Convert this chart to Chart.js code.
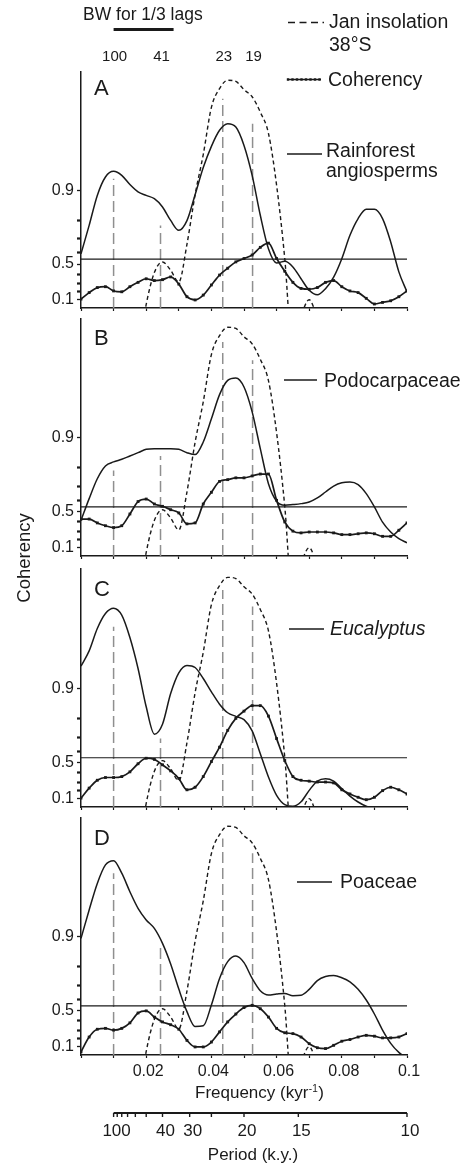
<!DOCTYPE html>
<html>
<head>
<meta charset="utf-8">
<script src="https://cdn.jsdelivr.net/npm/chart.js@4.4.1/dist/chart.umd.min.js"></script>
<style>
  body { margin: 0; background: #fff; }
  #wrap { position: relative; width: 464px; height: 1165px; }
  #wrap canvas { position: absolute; left: 0; top: 0; }
</style>
</head>
<body>
<div id="wrap">
  <canvas id="panelA" width="464" height="1165"></canvas>
  <canvas id="panelB" width="464" height="1165"></canvas>
  <canvas id="panelC" width="464" height="1165"></canvas>
  <canvas id="panelD" width="464" height="1165"></canvas>
</div>
<script>
// Frequency grid (kyr^-1)
const freq = [0, 0.0025, 0.005, 0.0075, 0.01, 0.0125, 0.015, 0.0175, 0.02, 0.0225,
  0.025, 0.0275, 0.03, 0.0325, 0.035, 0.0375, 0.04, 0.0425, 0.045, 0.0475,
  0.05, 0.0525, 0.055, 0.0575, 0.06, 0.0625, 0.065, 0.0675, 0.07, 0.0725,
  0.075, 0.0775, 0.08, 0.0825, 0.085, 0.0875, 0.09, 0.0925, 0.095, 0.0975, 0.1];

// January insolation 38°S, relative power (%), same in every panel
const insolation = [null, null, null, null, null, null, null, -20, 1.5, 15,
  19.5, 16, 11, 27, 48, 65, 85, 93, 96.5, 96,
  92.5, 89.5, 83, 74, 52, 21, -20, -4, 3.5, -4,
  null, null, null, null, null, null, null, null, null, null, null];

// Pollen spectra, relative power (%)
const rainforest = [23, 35, 47.7, 55.5, 57.9, 56.2, 52.3, 49.2, 47.7, 46.3,
  42.8, 37.1, 32.9, 37, 48, 59.5, 68.5, 75.3, 78.1, 76.7,
  68.9, 56.2, 39.3, 25.1, 19.1, 19.8, 17.4, 12.4, 7.5, 5.6,
  8.2, 13.1, 20.9, 30.8, 37.9, 41.8, 41.8, 37.9, 28, 15.3, 6.8];
const podocarp = [15, 24.2, 32.6, 38, 39.7, 40.8, 42.2, 43.6, 45, 45.3,
  45.3, 45.3, 45, 43.6, 42.8, 48.1, 57.9, 68.1, 74.1, 75.1,
  71.3, 60.8, 45.3, 30.5, 23.1, 21.4, 21.7, 22.1, 22.8, 24.5,
  27, 29.5, 30.9, 31.2, 30.1, 26.3, 20.7, 14.3, 10.1, 7.3, 5.6];
const eucalyptus = [59.2, 65.6, 75, 81.3, 83.5, 80.6, 71.2, 58.2, 42.1, 30.6,
  34.8, 47.7, 56.4, 59.5, 58.6, 54, 48.4, 43.2, 39.6, 38.1,
  36.7, 32, 22.4, 12.6, 4.9, 1, 0.3, 2.2, 7, 10.9,
  11.9, 10.9, 7.7, 4.6, 2.1, 0.3, -0.7, -2, -3, -3, -3];
const poaceae = [49.2, 61.2, 72.4, 80.2, 82, 76.7, 68.9, 61.9, 57, 53.4,
  47.1, 38.4, 27.8, 18.3, 12, 12.3, 21.1, 32.3, 39.4, 41.8,
  39, 32.3, 27.1, 25.3, 25.7, 26, 25, 25.2, 27.7, 31.4,
  33.1, 33.5, 32.6, 30.9, 27.7, 23.2, 17.3, 10.5, 4.9, 1.1, -1.4];

// Coherency with insolation
const cohRainforest = [0.11, 0.19, 0.25, 0.26, 0.21, 0.20, 0.26, 0.31, 0.35, 0.33,
  0.34, 0.37, 0.29, 0.14, 0.10, 0.16, 0.28, 0.39, 0.46, 0.52,
  0.55, 0.58, 0.64, 0.67, 0.55, 0.43, 0.31, 0.24, 0.23, 0.25,
  0.31, 0.33, 0.26, 0.21, 0.19, 0.12, 0.05, 0.07, 0.09, 0.14, 0.21];
const cohPodocarp = [0.43, 0.43, 0.39, 0.36, 0.34, 0.36, 0.48, 0.59, 0.61, 0.57,
  0.55, 0.52, 0.49, 0.38, 0.39, 0.57, 0.66, 0.73, 0.74, 0.75,
  0.75, 0.76, 0.77, 0.77, 0.60, 0.40, 0.30, 0.28, 0.29, 0.29,
  0.29, 0.28, 0.26, 0.26, 0.27, 0.28, 0.27, 0.24, 0.24, 0.31, 0.39];
const cohEucalyptus = [0.11, 0.23, 0.32, 0.35, 0.35, 0.36, 0.41, 0.49, 0.54, 0.53,
  0.48, 0.42, 0.34, 0.21, 0.24, 0.36, 0.51, 0.63, 0.74, 0.80,
  0.83, 0.85, 0.85, 0.81, 0.69, 0.52, 0.36, 0.32, 0.31, 0.30,
  0.30, 0.29, 0.21, 0.16, 0.12, 0.09, 0.12, 0.20, 0.24, 0.21, 0.16];
const cohPoaceae = [0.04, 0.22, 0.31, 0.32, 0.30, 0.32, 0.38, 0.48, 0.50, 0.44,
  0.39, 0.36, 0.31, 0.18, 0.10, 0.10, 0.16, 0.28, 0.39, 0.47,
  0.53, 0.55, 0.52, 0.44, 0.32, 0.27, 0.26, 0.22, 0.14, 0.09,
  0.08, 0.12, 0.17, 0.19, 0.22, 0.24, 0.23, 0.21, 0.21, 0.22, 0.26];

// Orbital periods (k.y.) and heights of their guide lines in each panel (%)
const orbitalPeriods = [100, 41, 23, 19];
const guidesA = [54.8, 35, 88.7, 78.1];
const guidesB = [36.1, 42.2, 90.3, 82.6];
const guidesC = [75.7, 28.8, 91.2, 84.2];
const guidesD = [76.7, 45.7, 91.4, 85.1];

const sigLevel = 0.545;          // coherency significance
const bandwidth = 0.0184;        // BW for 1/3 lags (kyr^-1)

// Axes ticks
const cohTicks = [0.1, 0.2, 0.3, 0.4, 0.5, 0.6, 0.7, 0.8, 0.9];
const cohMajor = [0.1, 0.5, 0.9];
const freqTicks = [0, 0.01, 0.02, 0.03, 0.04, 0.05, 0.06, 0.07, 0.08, 0.09, 0.1];
const freqLabels = ['', '', '0.02', '', '0.04', '', '0.06', '', '0.08', '', '0.1'];
const periodTicks = [100, 90, 80, 70, 60, 50, 40, 30, 25, 20, 15, 10];
const periodLabels = [100, 40, 30, 20, 15, 10];

const FONT = '"Liberation Sans", Arial, sans-serif';
const ink = '#1a1a1a';
Chart.defaults.font.family = FONT;
Chart.defaults.color = ink;

const pts = vals => freq.map((f, i) => ({ x: f, y: vals[i] }));
const cohPts = vals => freq.map((f, i) => ({ x: f, y: Math.atanh(vals[i]) }));
function guidePts(tops) {
  const out = [];
  orbitalPeriods.forEach((p, i) => {
    out.push({ x: 1 / p, y: 0 }, { x: 1 / p, y: tops[i] }, { x: 1 / p, y: null });
  });
  return out;
}

function legendLine(ctx, x1, x2, y) {
  ctx.save();
  ctx.strokeStyle = ink;
  ctx.lineWidth = 1.5;
  ctx.beginPath(); ctx.moveTo(x1, y); ctx.lineTo(x2, y); ctx.stroke();
  ctx.restore();
}

function text(ctx, str, x, y, size, opts = {}) {
  ctx.save();
  ctx.fillStyle = ink;
  ctx.font = (opts.italic ? 'italic ' : '') + size + 'px ' + FONT;
  ctx.textAlign = opts.align || 'left';
  ctx.textBaseline = 'alphabetic';
  ctx.fillText(str, x, y);
  ctx.restore();
}

function makePanel(id, o) {
  const decor = {
    id: 'decor',
    afterDraw(chart) {
      const ctx = chart.ctx;
      text(ctx, o.letter, 94, o.letterY, 22);
      legendLine(ctx, o.legend.x1, o.legend.x2, o.legend.y);
      o.legend.lines.forEach((t, k) =>
        text(ctx, t, o.legend.tx, o.legend.ty + k * 20.5, 19.5, { italic: o.legend.italic }));
      if (o.extra) o.extra(chart);
    }
  };
  return new Chart(document.getElementById(id), {
    type: 'line',
    data: {
      datasets: [
        {
          label: 'Coherency', data: cohPts(o.coh), yAxisID: 'y',
          borderColor: ink, borderWidth: 1.7, cubicInterpolationMode: 'monotone',
          pointStyle: 'rect', pointRadius: 2, pointBorderWidth: 0, pointBackgroundColor: ink
        },
        {
          label: o.legend.lines.join(' '), data: pts(o.spec), yAxisID: 'p',
          borderColor: ink, borderWidth: 1.5, cubicInterpolationMode: 'monotone', pointRadius: 0
        },
        {
          label: 'Jan insolation 38°S', data: pts(insolation), yAxisID: 'p',
          borderColor: ink, borderWidth: 1.4, borderDash: [4, 3],
          cubicInterpolationMode: 'monotone', pointRadius: 0
        },
        {
          label: 'Significance', yAxisID: 'y',
          data: [{ x: 0, y: Math.atanh(sigLevel) }, { x: 0.1, y: Math.atanh(sigLevel) }],
          borderColor: ink, borderWidth: 1.1, pointRadius: 0
        },
        {
          label: 'Orbital periods', data: guidePts(o.guides), yAxisID: 'p',
          borderColor: '#8f8f8f', borderWidth: 1.5, borderDash: [11, 5], pointRadius: 0
        }
      ]
    },
    options: {
      responsive: false,
      animation: false,
      events: [],
      layout: { padding: { top: o.top, right: 57, bottom: 0, left: 0 } },
      plugins: { legend: { display: false }, tooltip: { enabled: false } },
      scales: {
        x: {
          type: 'linear', min: 0, max: 0.1,
          afterBuildTicks: s => { s.ticks = freqTicks.map(v => ({ value: v })); },
          afterFit: s => { s.height = 1165 - o.bottom; },
          grid: { drawOnChartArea: false, tickLength: 3, color: ink, tickWidth: 1.2 },
          border: { color: ink, width: 1.5 },
          ticks: {
            display: !!o.freqLabels, autoSkip: false, maxRotation: 0, padding: 4,
            labelOffset: 2, font: { size: 16 }, color: ink,
            callback: (v, i) => freqLabels[i]
          }
        },
        y: {
          type: 'linear', min: 0, max: 2.95,
          afterBuildTicks: s => { s.ticks = cohTicks.map(c => ({ value: Math.atanh(c) })); },
          afterFit: s => { s.width = 81; },
          grid: {
            drawOnChartArea: false, tickLength: 4, color: ink,
            tickWidth: c => (cohMajor.includes(cohTicks[c.index]) ? 1.3 : 2.2)
          },
          border: { color: ink, width: 1.5 },
          ticks: {
            autoSkip: false, padding: 3, font: { size: 16 }, color: ink,
            callback: (v, i) => (cohMajor.includes(cohTicks[i]) ? cohTicks[i].toFixed(1) : '')
          }
        },
        p: { display: false, min: 0, max: 100 }
      }
    },
    plugins: [decor]
  });
}

// Panel A, with the key at the top
makePanel('panelA', {
  top: 72, bottom: 308, letter: 'A', letterY: 95,
  spec: rainforest, coh: cohRainforest, guides: guidesA,
  legend: { x1: 287, x2: 322, y: 154, tx: 326, ty: 156.5, lines: ['Rainforest', 'angiosperms'] },
  extra(chart) {
    const ctx = chart.ctx, x = chart.scales.x;
    text(ctx, 'BW for 1/3 lags', 83, 20, 17.5);
    ctx.save();
    ctx.strokeStyle = ink; ctx.lineWidth = 3;
    ctx.beginPath();
    ctx.moveTo(x.getPixelForValue(1 / orbitalPeriods[0]), 29.5);
    ctx.lineTo(x.getPixelForValue(1 / orbitalPeriods[0] + bandwidth), 29.5);
    ctx.stroke();
    ctx.restore();
    orbitalPeriods.forEach(p => text(ctx, String(p), x.getPixelForValue(1 / p) + 1, 61, 15, { align: 'center' }));

    // Jan insolation key
    ctx.save();
    ctx.strokeStyle = ink; ctx.lineWidth = 1.4; ctx.setLineDash([7, 4.5]);
    ctx.beginPath(); ctx.moveTo(288, 22.5); ctx.lineTo(324, 22.5); ctx.stroke();
    ctx.restore();
    text(ctx, 'Jan insolation', 329, 27.5, 19.5);
    text(ctx, '38°S', 329, 50.5, 19.5);

    // Coherency key
    legendLine(ctx, 287, 321, 79.5);
    ctx.save();
    ctx.fillStyle = ink;
    for (let px = 288; px <= 320; px += 4.5) ctx.fillRect(px - 1.2, 78.3, 2.4, 2.4);
    ctx.restore();
    text(ctx, 'Coherency', 328, 86, 19.5);
  }
});

makePanel('panelB', {
  top: 319, bottom: 556, letter: 'B', letterY: 345,
  spec: podocarp, coh: cohPodocarp, guides: guidesB,
  legend: { x1: 284, x2: 317, y: 380, tx: 324, ty: 387, lines: ['Podocarpaceae'] },
  extra(chart) {
    const ctx = chart.ctx;
    ctx.save();
    ctx.translate(29.5, 558);
    ctx.rotate(-Math.PI / 2);
    text(ctx, 'Coherency', 0, 0, 18.5, { align: 'center' });
    ctx.restore();
  }
});

makePanel('panelC', {
  top: 569, bottom: 807, letter: 'C', letterY: 596,
  spec: eucalyptus, coh: cohEucalyptus, guides: guidesC,
  legend: { x1: 289, x2: 324, y: 629, tx: 330, ty: 635, lines: ['Eucalyptus'], italic: true }
});

makePanel('panelD', {
  top: 818, bottom: 1055, letter: 'D', letterY: 845, freqLabels: true,
  spec: poaceae, coh: cohPoaceae, guides: guidesD,
  legend: { x1: 297, x2: 332, y: 882, tx: 340, ty: 888, lines: ['Poaceae'] },
  extra(chart) {
    const ctx = chart.ctx, x = chart.scales.x;
    // Frequency axis title with superscript
    ctx.save();
    ctx.fillStyle = ink;
    ctx.font = '17px ' + FONT;
    let cx = 195;
    ctx.fillText('Frequency (kyr', cx, 1098);
    cx += ctx.measureText('Frequency (kyr').width + 0.5;
    ctx.font = '10px ' + FONT;
    ctx.fillText('-1', cx, 1092);
    cx += ctx.measureText('-1').width + 0.5;
    ctx.font = '17px ' + FONT;
    ctx.fillText(')', cx, 1098);
    ctx.restore();

    // Period axis
    const yAx = 1113;
    ctx.save();
    ctx.strokeStyle = ink;
    ctx.lineWidth = 1.8;
    ctx.beginPath();
    ctx.moveTo(x.getPixelForValue(1 / 100), yAx);
    ctx.lineTo(x.getPixelForValue(1 / 10), yAx);
    ctx.stroke();
    ctx.lineWidth = 1.4;
    periodTicks.forEach(p => {
      const px = x.getPixelForValue(1 / p);
      ctx.beginPath(); ctx.moveTo(px, yAx); ctx.lineTo(px, yAx + 4); ctx.stroke();
    });
    ctx.restore();
    periodLabels.forEach(p => text(ctx, String(p), x.getPixelForValue(1 / p) + 3, 1135.5, 17, { align: 'center' }));
    text(ctx, 'Period (k.y.)', 253, 1160, 17, { align: 'center' });
  }
});
</script>
</body>
</html>
